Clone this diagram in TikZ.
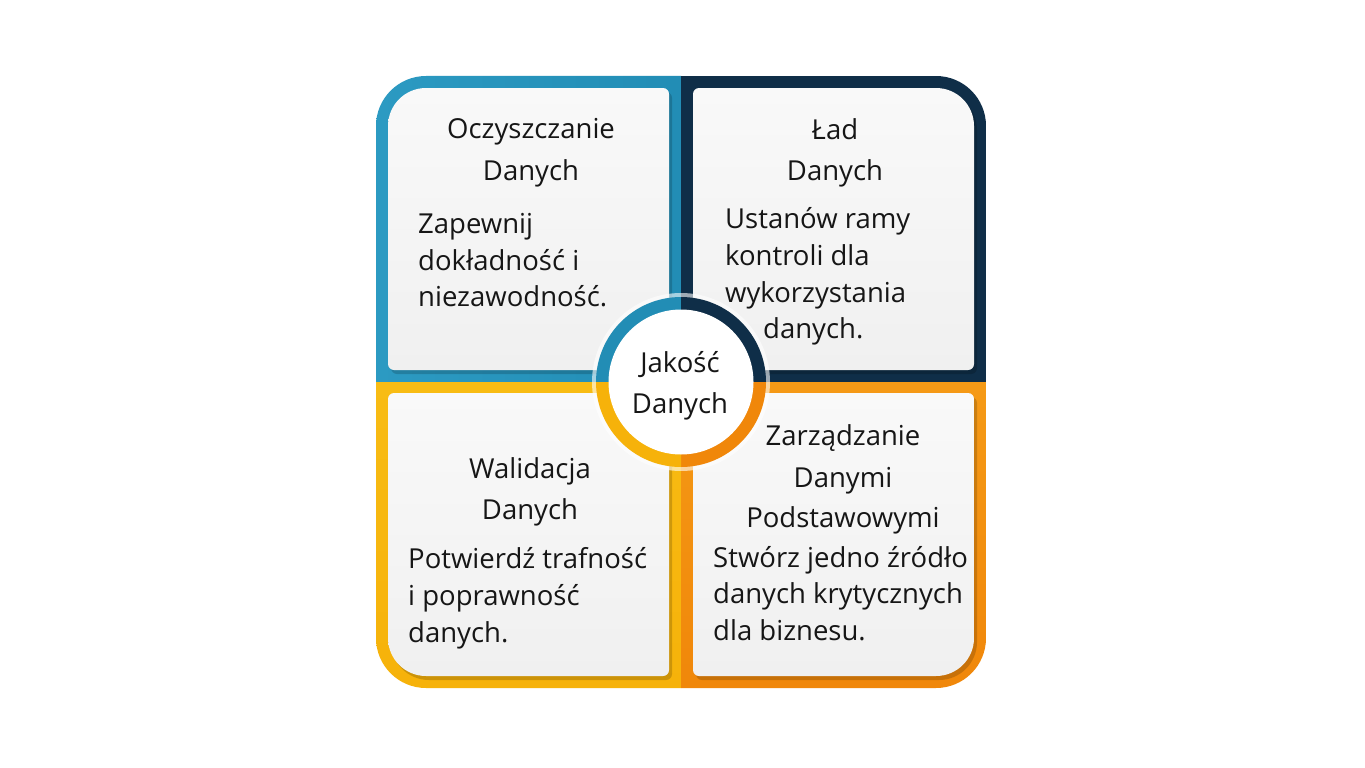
\documentclass[tikz,border=0pt]{standalone}
\usepackage{fontspec}
\setmainfont{Open Sans}
\definecolor{cteal}{HTML}{228DB5}
\definecolor{cteall}{HTML}{2C9AC2}
\definecolor{cnavy}{HTML}{0F2E48}
\definecolor{cyel}{HTML}{F6B20A}
\definecolor{cyell}{HTML}{F8BC14}
\definecolor{corg}{HTML}{F0870A}
\definecolor{corgl}{HTML}{F59A16}
\definecolor{pa}{HTML}{F9F9F9}
\definecolor{pb}{HTML}{F0F0F0}
\definecolor{ink}{HTML}{161616}
% #1..#4 clip rectangle (shares only the outer corner with the panel), #5..#8 panel rectangle
\newcommand\panelbox[8]{%
  \begin{scope}[shift={(3,4)}]
    \clip[rounded corners=38pt] (#1,#2) rectangle (#3,#4);
    \fill[shadowfill, rounded corners=6pt] (#5,#6) rectangle (#7,#8);
  \end{scope}
  \begin{scope}
    \clip[rounded corners=38pt] (#1,#2) rectangle (#3,#4);
    \shade[panelfill, rounded corners=6pt] (#5,#6) rectangle (#7,#8);
  \end{scope}}
\begin{document}
\begin{tikzpicture}[x=1pt,y=-1pt,
  lbl/.style={font=\fontsize{27.5}{30}\selectfont, text=ink, inner sep=0pt, anchor=base},
  lbll/.style={lbl, anchor=base west},
  panelfill/.style={top color=pa, bottom color=pb},
  shadowfill/.style={fill=black, opacity=0.17}]
\fill[white] (0,0) rectangle (1365,768);
\useasboundingbox (0,0) rectangle (1365,768);
% coloured quadrants
\begin{scope}
  \clip[rounded corners=50pt] (376,76) rectangle (986,688);
  \shade[left color=cteall, right color=cteal] (376,76) rectangle (681,382);
  \fill[cnavy] (681,76) rectangle (986,382);
  \shade[top color=cyell, bottom color=cyel] (376,382) rectangle (681,688);
  \shade[top color=corgl, bottom color=corg] (681,382) rectangle (986,688);
\end{scope}
% panels
\panelbox{388}{88}{1200}{720}{388}{88}{669}{370}
\panelbox{100}{88}{974}{720}{693}{88}{974}{370}
\panelbox{388}{60}{1200}{676}{388}{393}{669}{676}
\panelbox{100}{60}{974}{676}{693}{393}{974}{676}
% centre ring
\fill[white, opacity=0.6] (681,382) circle[radius=89];
\fill[cteal] (681,382) -- (596,382) arc[start angle=180,end angle=270,radius=85] -- cycle;
\fill[cnavy] (681,382) -- (681,297) arc[start angle=270,end angle=360,radius=85] -- cycle;
\fill[corg] (681,382) -- (766,382) arc[start angle=0,end angle=90,radius=85] -- cycle;
\fill[cyel] (681,382) -- (681,467) arc[start angle=90,end angle=180,radius=85] -- cycle;
\node[circle, fill=white, minimum size=145pt, inner sep=0pt] (core) at (681,382) {};
\node[lbl] (c1) at (680,372) {Jakość};
\node[lbl] (c2) at (680,413) {Danych};
% top left
\node[lbl] (a1) at (531,138) {Oczyszczanie};
\node[lbl] (a2) at (531,180) {Danych};
\node[lbll] (a3) at (418,233) {Zapewnij};
\node[lbll] (a4) at (418,270) {dokładność i};
\node[lbll] (a5) at (418,306) {niezawodność.};
% top right
\node[lbl] (b1) at (835,139) {Ład};
\node[lbl] (b2) at (835,180) {Danych};
\node[lbll] (b3) at (725,228) {Ustanów ramy};
\node[lbll] (b4) at (725,265) {kontroli dla};
\node[lbll] (b5) at (725,302) {wykorzystania};
\node[lbll] (b6) at (763,338) {danych.};
% bottom left
\node[lbl] (d1) at (530,478) {Walidacja};
\node[lbl] (d2) at (530,519) {Danych};
\node[lbll] (d3) at (408,568) {Potwierdź trafność};
\node[lbll] (d4) at (408,605) {i poprawność};
\node[lbll] (d5) at (408,642) {danych.};
% bottom right
\node[lbl] (e1) at (843,445) {Zarządzanie};
\node[lbl] (e2) at (843,487) {Danymi};
\node[lbl] (e3) at (843,527) {Podstawowymi};
\node[lbll] (e4) at (713,567) {Stwórz jedno źródło};
\node[lbll] (e5) at (713,603) {danych krytycznych};
\node[lbll] (e6) at (713,640) {dla biznesu.};
\end{tikzpicture}
\end{document}
